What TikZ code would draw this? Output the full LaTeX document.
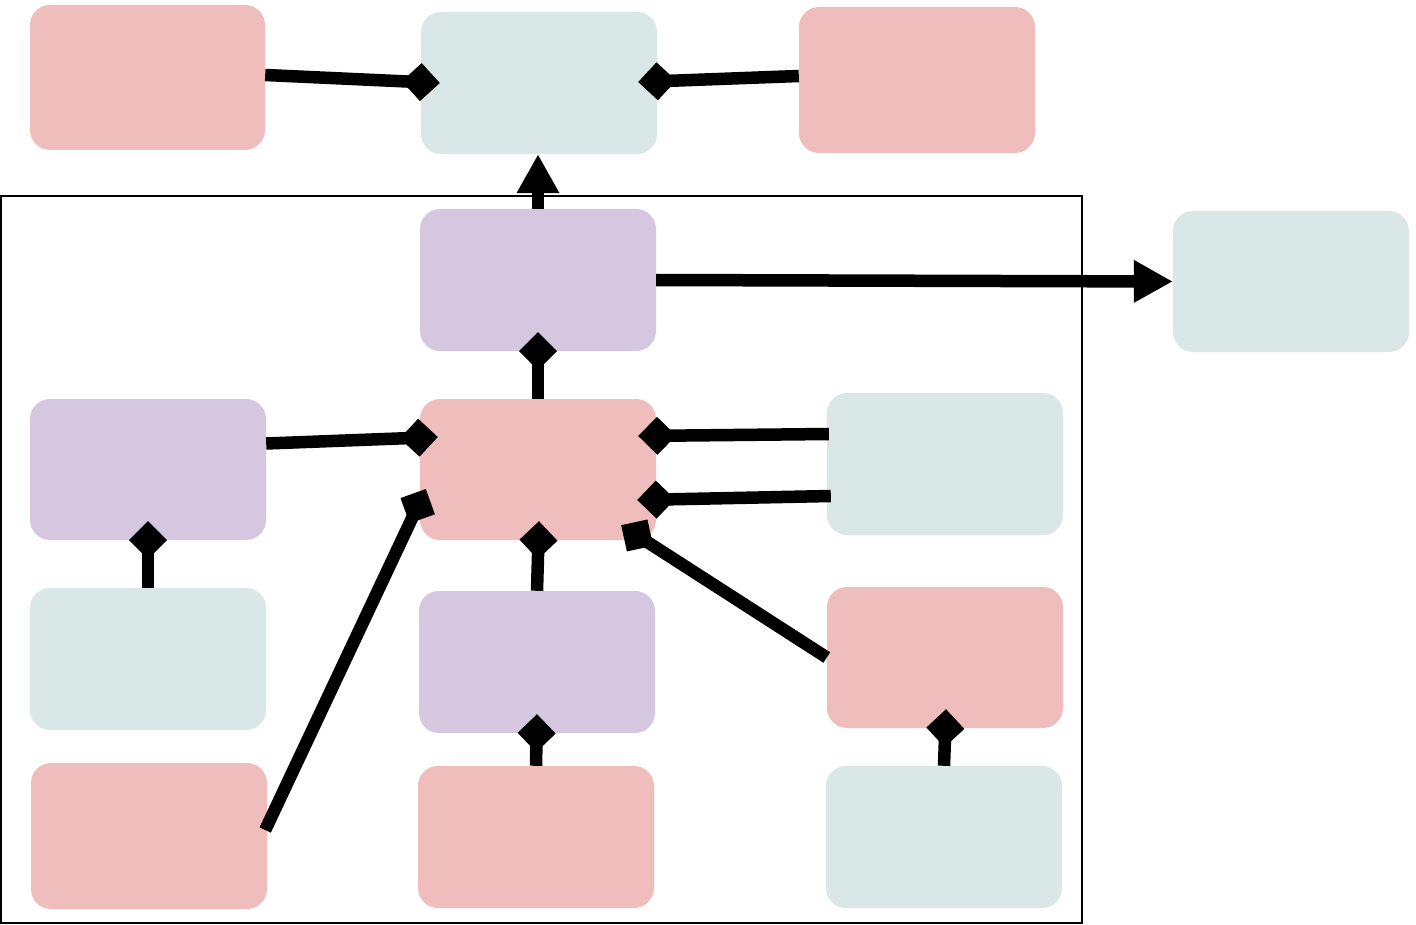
\documentclass[tikz,border=0pt]{standalone}
\usetikzlibrary{arrows.meta,calc}
\definecolor{pinkbox}{RGB}{240,189,189}
\definecolor{tealbox}{RGB}{217,232,230}
\definecolor{purplebox}{RGB}{213,199,223}
\tikzset{
  box/.style={rounded corners=20pt, minimum width=236pt, minimum height=142pt, inner sep=0pt, draw=none},
  pinkb/.style={box, fill=pinkbox},
  tealb/.style={box, fill=tealbox},
  purpb/.style={box, fill=purplebox},
  conn/.style={line width=12.5pt, draw=black},
  dia/.style={conn, -{Diamond[length=38pt,width=38pt]}},
  tri/.style={conn, -{Triangle[length=39pt,width=40pt]}},
}
\begin{document}
\begin{tikzpicture}[x=1pt,y=-1pt]
\useasboundingbox (0,0) rectangle (1416,925);
% frame
\draw[line width=2pt] (1,196) rectangle (1082,923);
% nodes
\node[pinkb, minimum width=235pt, minimum height=145pt] (tl) at (147.5,77.5) {};
\node[tealb] (tm) at (539,83) {};
\node[pinkb, minimum height=146pt] (tr) at (917,80) {};
\node[purpb] (pt) at (538,280) {};
\node[tealb, minimum height=141pt] (rt) at (1291,281.5) {};
\node[purpb, minimum height=141pt] (pl) at (148,469.5) {};
\node[pinkb, minimum height=141pt] (cp) at (538,469.5) {};
\node[tealb] (rm) at (945,464) {};
\node[tealb] (lt) at (148,659) {};
\node[purpb] (mp) at (537,662) {};
\node[pinkb, minimum height=141pt] (rp) at (945,657.5) {};
\node[pinkb, minimum height=146pt] (lb) at (149,836) {};
\node[pinkb] (mb) at (536,837) {};
\node[tealb] (rb) at (944,837) {};
% connectors
\draw[dia] ($(tl.east)+(0,-2.5)$) -- ($(tm.west)+(19,0)$);
\draw[dia] ($(tr.west)+(0,-4)$) -- ($(tm.east)+(-19,-1)$);
\draw[tri] (pt.north) -- (pt.north |- tm.south);
\draw[tri] (pt.east) -- (rt.west);
\draw[dia] (cp.north) -- ($(pt.south)+(0,-19)$);
\draw[dia] ($(pl.east)+(0,-26)$) -- ($(cp.west)+(18,-32.5)$);
\draw[dia] ($(rm.west)+(2,-30)$) -- ($(cp.east)+(-18,-33.5)$);
\draw[dia] ($(rm.west)+(4,32)$) -- ($(cp.east)+(-19,30.5)$);
\draw[dia] (lt.north) -- ($(pl.south)+(0,-19)$);
\draw[dia] (mp.north) -- ($(cp.south)+(1,-19)$);
\draw[dia] (rp.west) -- ($(cp.south east)+(-35,-15)$);
\draw[dia] (mb.north) -- ($(mp.south)+(0,-19)$);
\draw[dia] (rb.north) -- ($(rp.south)+(1,-19)$);
\draw[dia] ($(lb.east)+(-2,-6)$) -- ($(cp.west)+(6,19.5)$);
\end{tikzpicture}
\end{document}
